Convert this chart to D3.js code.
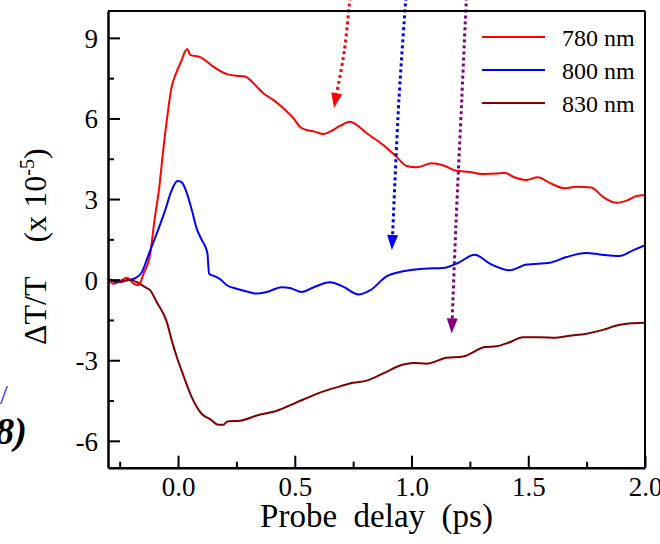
<!DOCTYPE html>
<html>
<head>
<meta charset="utf-8">
<script src="https://cdn.jsdelivr.net/npm/d3@7"></script>
</head>
<body style="margin:0;padding:0;background:#fff">
<svg id="chart" width="660" height="544" style="display:block"></svg>
<script>
// ---- data ----
const seriesNames = ["780 nm", "800 nm", "830 nm"];
const seriesColors = ["#ff0000", "#0000ff", "#800000"];

const t780 = [-0.30,-0.276,-0.248,-0.219,-0.19,-0.169,-0.148,-0.119,-0.101,-0.080,-0.065,-0.048,-0.027,-0.008,0.016,0.030,0.040,0.052,0.095,0.151,0.209,0.251,0.287,0.323,0.365,0.408,0.451,0.494,0.522,0.551,0.586,0.622,0.651,0.693,0.736,0.808,0.879,0.936,0.979,1.021,1.086,1.135,1.192,1.249,1.306,1.378,1.399,1.435,1.492,1.541,1.592,1.656,1.706,1.770,1.820,1.877,1.926,1.962,2.0];
const v780 = [0.04,-0.15,-0.05,0.07,-0.15,-0.21,0.22,0.97,2.21,3.46,4.70,5.94,7.19,7.69,8.18,8.49,8.59,8.37,8.28,7.93,7.65,7.59,7.56,7.31,6.94,6.69,6.38,6.01,5.69,5.57,5.51,5.42,5.51,5.72,5.88,5.45,5.01,4.57,4.23,4.18,4.33,4.26,4.05,4.01,3.93,3.96,3.98,3.83,3.71,3.81,3.60,3.40,3.46,3.43,3.08,2.86,2.96,3.11,3.15];

const t800 = [-0.30,-0.262,-0.219,-0.183,-0.155,-0.127,-0.091,-0.055,-0.027,-0.003,0.016,0.038,0.059,0.080,0.102,0.120,0.126,0.133,0.159,0.180,0.209,0.251,0.294,0.337,0.380,0.444,0.479,0.530,0.579,0.651,0.707,0.772,0.822,0.893,0.964,1.050,1.135,1.199,1.271,1.335,1.420,1.492,1.592,1.663,1.749,1.805,1.891,1.948,2.0];
const v800 = [0.04,-0.09,-0.03,0.06,0.28,0.91,1.72,2.59,3.33,3.67,3.62,3.21,2.59,1.90,1.47,1.16,0.97,0.22,0.12,0.02,-0.21,-0.34,-0.44,-0.52,-0.46,-0.28,-0.31,-0.46,-0.29,-0.10,-0.26,-0.55,-0.40,0.12,0.31,0.41,0.43,0.62,0.93,0.60,0.35,0.56,0.63,0.84,0.99,0.94,0.88,1.09,1.28];

const t830 = [-0.30,-0.248,-0.212,-0.176,-0.141,-0.119,-0.091,-0.048,-0.027,-0.005,0.023,0.059,0.102,0.137,0.173,0.194,0.211,0.266,0.337,0.423,0.508,0.594,0.679,0.750,0.808,0.879,0.964,1.007,1.064,1.150,1.221,1.314,1.364,1.420,1.477,1.549,1.620,1.677,1.749,1.820,1.891,1.948,2.0];
const v830 = [0.04,-0.09,0.0,-0.09,-0.28,-0.40,-0.84,-1.58,-2.26,-2.89,-3.57,-4.38,-5.00,-5.19,-5.40,-5.40,-5.28,-5.25,-5.06,-4.88,-4.57,-4.25,-4.01,-3.84,-3.76,-3.49,-3.16,-3.10,-3.13,-2.91,-2.86,-2.51,-2.48,-2.33,-2.14,-2.14,-2.16,-2.09,-2.01,-1.87,-1.68,-1.62,-1.60];

const xTicks = [0.0, 0.5, 1.0, 1.5, 2.0];
const xTickLabels = ["0.0", "0.5", "1.0", "1.5", "2.0"];
const xMinor = [-0.25, 0.25, 0.75, 1.25, 1.75];
const yTicks = [-6, -3, 0, 3, 6, 9];
const yTickLabels = ["-6", "-3", "0", "3", "6", "9"];
const yMinor = [-4.5, -1.5, 1.5, 4.5, 7.5];

// annotation arrows (data coordinates)
const arrowColors = ["#ff0000", "#0000ff", "#800080"];
const arrowX = [[0.736, 0.712, 0.668], [0.976, 0.946, 0.916], [1.235, 1.215, 1.19, 1.172]];
const arrowY = [[10.5, 8.5, 6.39], [10.5, 6.69, 1.10], [10.5, 6.69, 2.0, -2.0]];

// ---- chart ----
const FONT = '"Liberation Serif"';
const svg = d3.select("#chart");
const L = 108, R = 645, T = 11, B = 467.7;
const x = d3.scaleLinear().domain([-0.3, 2.0]).range([L, R]);
const y = d3.scaleLinear().domain([-7, 10]).range([B, T]);

const seriesT = [t780, t800, t830];
const seriesV = [v780, v800, v830];

const line = d3.line().x(d => x(d[0])).y(d => y(d[1])).curve(d3.curveMonotoneX);

const plot = svg.append("g");
seriesT.forEach((ts, i) => {
  const pts = ts.map((t, j) => [t, seriesV[i][j]]);
  plot.append("path").datum(pts)
    .attr("d", line)
    .attr("fill", "none")
    .attr("stroke", seriesColors[i])
    .attr("stroke-width", 2)
    .attr("stroke-linejoin", "round");
});

// arrows
arrowX.forEach((xs, i) => {
  const px = xs.map((v, j) => [x(v), y(arrowY[i][j])]);
  const tip = px[px.length - 1];
  const prev = px[px.length - 2];
  const dx = tip[0] - prev[0], dy = tip[1] - prev[1];
  const len = Math.hypot(dx, dy);
  const ux = dx / len, uy = dy / len;
  const hl = 15, hw = 5.5;
  const base = [tip[0] - ux * hl, tip[1] - uy * hl];
  const shaft = px.slice(0, -1).concat([base]);
  svg.append("path")
    .attr("d", d3.line().curve(d3.curveCatmullRom)(shaft))
    .attr("fill", "none")
    .attr("stroke", arrowColors[i])
    .attr("stroke-width", 3)
    .attr("stroke-dasharray", "3,3");
  svg.append("path")
    .attr("d", `M${tip[0]},${tip[1]}L${base[0] - uy * hw},${base[1] + ux * hw}L${base[0] + uy * hw},${base[1] - ux * hw}Z`)
    .attr("fill", arrowColors[i]);
});

// frame (top and right)
svg.append("line").attr("x1", L).attr("x2", R).attr("y1", T).attr("y2", T)
  .attr("stroke", "#000").attr("stroke-width", 2);
svg.append("line").attr("x1", R).attr("x2", R).attr("y1", T).attr("y2", B)
  .attr("stroke", "#000").attr("stroke-width", 2);

// x axis
const gx = svg.append("g").attr("transform", `translate(0,${B})`)
  .call(d3.axisBottom(x).tickValues(xTicks).tickSizeInner(-12).tickSizeOuter(0)
    .tickFormat((d, i) => xTickLabels[i]));
svg.append("g").attr("transform", `translate(0,${B})`)
  .call(d3.axisBottom(x).tickValues(xMinor).tickSizeInner(-6).tickSizeOuter(0).tickFormat(""))
  .call(g => g.select(".domain").remove())
  .selectAll("line").attr("stroke-width", 2);
gx.select(".domain").attr("stroke-width", 2.5);
gx.selectAll(".tick line").attr("stroke-width", 2);
gx.selectAll(".tick text").attr("y", 28.5).attr("dy", null)
  .attr("font-size", 27).attr("fill", "#000");

// y axis
const gy = svg.append("g").attr("transform", `translate(${L},0)`)
  .call(d3.axisLeft(y).tickValues(yTicks).tickSizeInner(-12).tickSizeOuter(0)
    .tickFormat((d, i) => yTickLabels[i]));
svg.append("g").attr("transform", `translate(${L},0)`)
  .call(d3.axisLeft(y).tickValues(yMinor).tickSizeInner(-6).tickSizeOuter(0).tickFormat(""))
  .call(g => g.select(".domain").remove())
  .selectAll("line").attr("stroke-width", 2);
gy.select(".domain").attr("stroke-width", 2.5);
gy.selectAll(".tick line").attr("stroke-width", 2);
gy.selectAll(".tick text").attr("x", -10).attr("dy", 9.5)
  .attr("font-size", 27).attr("fill", "#000");

// x title
svg.append("text")
  .attr("x", (L + R) / 2).attr("y", 527)
  .attr("text-anchor", "middle")
  .attr("font-size", 33)
  .style("white-space", "pre")
  .text("Probe  delay  (ps)");

// y title
const yt = svg.append("text")
  .attr("transform", "translate(46,345) rotate(-90)")
  .attr("font-size", 32)
  .style("white-space", "pre");
yt.append("tspan").text("\u0394T/T");
yt.append("tspan").attr("dx", 34).text("(x 10");
yt.append("tspan").attr("font-size", 20).attr("dy", -12).text("-5");
yt.append("tspan").attr("dy", 12).text(")");

// legend
const lg = svg.append("g");
seriesNames.forEach((n, i) => {
  const yy = 37 + i * 33;
  lg.append("line").attr("x1", 482).attr("x2", 545).attr("y1", yy).attr("y2", yy)
    .attr("stroke", seriesColors[i]).attr("stroke-width", 2);
  lg.append("text").attr("x", 562).attr("y", yy + 8.5).attr("font-size", 24).text(n);
});

// cropped fragments at the left edge
svg.append("text").attr("x", 0).attr("y", 404).attr("font-size", 28)
  .attr("fill", "#3333ff").text("/");
svg.append("text").attr("x", 27).attr("y", 444).attr("text-anchor", "end")
  .attr("font-size", 38).attr("font-weight", "bold").attr("font-style", "italic")
  .text("(2008)");

// apply serif font to every text
svg.selectAll("text").style("font-family", FONT);
</script>
</body>
</html>
